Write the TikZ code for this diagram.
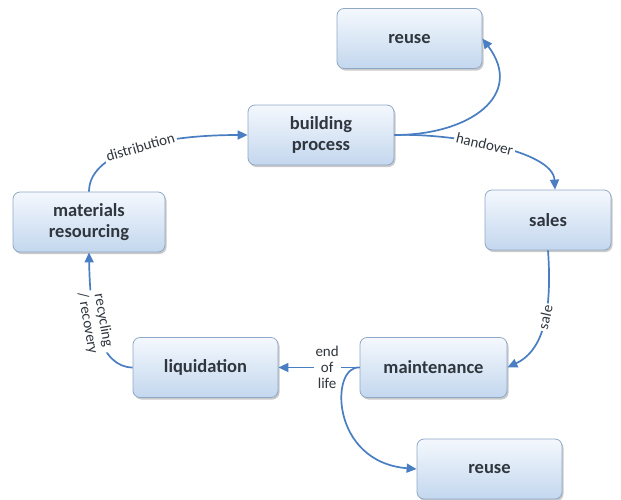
\documentclass[tikz,border=0pt]{standalone}
\usepackage{fontspec}
\setmainfont{Carlito}
\usetikzlibrary{shadows,arrows.meta}
\definecolor{arrblue}{HTML}{4A7EC2}
\definecolor{boxtop}{HTML}{F4F8FD}
\definecolor{boxbot}{HTML}{C3D7EE}
\definecolor{boxline}{HTML}{8FA8C6}
\definecolor{txt}{HTML}{30363E}
\begin{document}
\begin{tikzpicture}[x=1pt,y=-1pt,
  box/.style={rectangle, rounded corners=7pt, draw=boxline, line width=0.8pt,
    top color=boxtop, bottom color=boxbot, minimum height=60pt,
    align=center, text=txt, font=\fontsize{18.5}{21}\selectfont\bfseries,
    drop shadow={shadow xshift=1.5pt, shadow yshift=-2pt, opacity=0.35, fill=gray!80!black}},
  arr/.style={draw=arrblue, line width=1.7pt, -{Triangle[length=10pt,width=9pt]}},
  lab/.style={fill=white, inner sep=2pt, text=txt, font=\fontsize{15}{16}\selectfont, align=center}]
\useasboundingbox (0,0) rectangle (621,499);

\node[box, minimum width=145pt] (reuseA) at (409.5,38.5) {reuse};
\node[box, minimum width=146pt] (build) at (321,135) {building\\process};
\node[box, minimum width=152pt] (mat) at (89,222) {materials\\resourcing};
\node[box, minimum width=126pt] (sales) at (548,220) {sales};
\node[box, minimum width=145pt] (liq) at (205.5,367.5) {liquidation};
\node[box, minimum width=147pt] (maint) at (433.5,367.5) {maintenance};
\node[box, minimum width=145pt] (reuseB) at (489.5,469) {reuse};

\draw[arr] (mat.north) .. controls (89,155) and (150,135) .. node[lab, pos=0.55, sloped] {distribution} (build.west);
\draw[arr] (build.east) .. controls (470,135) and (525,95) .. (reuseA.east);
\draw[arr] (build.east) .. controls (450,133) and (553,150) .. node[lab, pos=0.45, sloped] {handover} ([xshift=7pt]sales.north);
\draw[arr] (sales.south) .. controls (553,320) and (540,352) .. node[lab, pos=0.4, sloped] {sale} (maint.east);
\draw[arr] (maint.west) -- node[lab, pos=0.4] {end\\of\\life} (liq.east);
\draw[arr] (maint.west) .. controls (330,365) and (330,462) .. (reuseB.west);
\draw[arr] (liq.west) .. controls (100,367) and (90,320) .. node[lab, pos=0.6, rotate=-80, inner sep=1pt] {recycling\\/ recovery} (mat.south);
\end{tikzpicture}
\end{document}
